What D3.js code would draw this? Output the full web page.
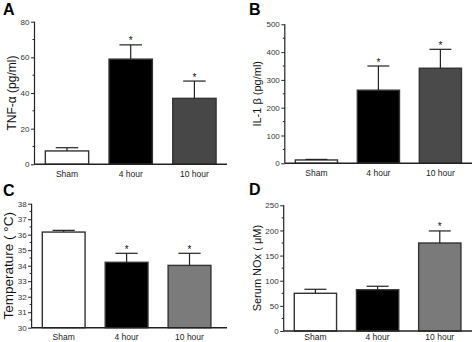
<!DOCTYPE html>
<html><head><meta charset="utf-8">
<script src="https://cdn.jsdelivr.net/npm/d3@7"></script>
<style>
html,body{margin:0;padding:0;background:#fff;}
svg{display:block;font-family:"Liberation Sans",Arial,sans-serif;}
</style></head>
<body>
<svg id="chart" width="472" height="342"></svg>
<script>
const categories = ["Sham", "4 hour", "10 hour"];

const tnfMean = [7.5, 59, 37];
const tnfSem  = [1.8, 8, 9.7];
const tnfSig  = [false, true, true];
const tnfTicks = [0, 20, 40, 60, 80];

const il1Mean = [12, 263, 342];
const il1Sem  = [2, 87, 68];
const il1Sig  = [false, true, true];
const il1Ticks = [0, 100, 200, 300, 400, 500];

const tempMean = [36.17, 34.22, 34.02];
const tempSem  = [0.11, 0.58, 0.78];
const tempSig  = [false, true, true];
const tempTicks = [30, 31, 32, 33, 34, 35, 36, 37, 38];

const noxMean = [75, 82, 175];
const noxSem  = [8, 7, 24];
const noxSig  = [false, false, true];
const noxTicks = [0, 50, 100, 150, 200, 250];

const panels = [
  {letter:"A", lx:3, ly:15, label:"TNF-\u03b1 (pg/ml)", labelSize:12, labelX:16, mean:tnfMean, sem:tnfSem, sig:tnfSig, ticks:tnfTicks, minor:10,
   dom:[0,80], yr:[164.3,21.7], x0:34.5, x1:226.9, axisEnd:227, xlabY:176.5, fills:["#fff","#000","#474747"]},
  {letter:"B", lx:249, ly:15, label:"IL-1 \u03b2 (pg/ml)", labelSize:11, labelX:261, mean:il1Mean, sem:il1Sem, sig:il1Sig, ticks:il1Ticks, minor:50,
   dom:[0,500], yr:[163.3,24.3], x0:284.8, x1:472, axisEnd:472, xlabY:175.5, fills:["#fff","#000","#4a4a4a"]},
  {letter:"C", lx:3, ly:196, label:"Temperature ( \u00b0C)", labelSize:13.5, labelX:13, mean:tempMean, sem:tempSem, sig:tempSig, ticks:tempTicks, minor:0.5,
   dom:[30,38], yr:[327.7,203.7], x0:31.6, x1:221.6, axisEnd:227, xlabY:339.5, fills:["#fff","#000","#7b7b7b"]},
  {letter:"D", lx:249, ly:195, label:"Serum NOx ( \u03bcM)", labelSize:11, labelX:261, mean:noxMean, sem:noxSem, sig:noxSig, ticks:noxTicks, minor:25,
   dom:[0,250], yr:[331,205.3], x0:283.7, x1:471.5, axisEnd:472, xlabY:339.5, fills:["#fff","#000","#7a7a7a"]}
];

const svg = d3.select("#chart");
const axisColor = "#222";

panels.forEach(p => {
  const g = svg.append("g");
  const y = d3.scaleLinear().domain(p.dom).range(p.yr);
  const x = d3.scaleBand().domain(categories).range([p.x0, p.x1]).paddingInner(0.32).paddingOuter(0.17);
  const axisX = p.x0;

  // panel letter
  g.append("text").attr("x", p.lx).attr("y", p.ly).attr("font-size", 16).attr("font-weight", "bold")
    .attr("fill", "#000").text(p.letter);

  // bars
  g.selectAll("rect.bar").data(categories).enter().append("rect")
    .attr("x", d => x(d)).attr("width", x.bandwidth())
    .attr("y", (d,i) => y(p.mean[i]))
    .attr("height", (d,i) => y(p.dom[0]) - y(p.mean[i]))
    .attr("fill", (d,i) => p.fills[i]).attr("stroke", "#333").attr("stroke-width", 1.4);

  // error bars
  const capW = x.bandwidth() * 0.52;
  categories.forEach((c,i) => {
    const cx = x(c) + x.bandwidth()/2;
    const top = y(p.mean[i] + p.sem[i]);
    g.append("line").attr("x1", cx).attr("x2", cx).attr("y1", y(p.mean[i])).attr("y2", top)
      .attr("stroke", "#222").attr("stroke-width", 1.2);
    g.append("line").attr("x1", cx - capW/2).attr("x2", cx + capW/2).attr("y1", top).attr("y2", top)
      .attr("stroke", "#222").attr("stroke-width", 1.2);
    if (p.sig[i]) {
      g.append("text").attr("x", cx).attr("y", top - 0.5).attr("text-anchor", "middle")
        .attr("font-size", 10).attr("fill", "#111").text("*");
    }
  });

  // y axis
  const yAxis = d3.axisLeft(y).tickValues(p.ticks).tickSize(3.5).tickPadding(1.5).tickFormat(d3.format("d"));
  const ya = g.append("g").attr("transform", `translate(${axisX},0)`).call(yAxis);
  ya.select(".domain").attr("stroke", axisColor).attr("stroke-width", 1.2).attr("d", `M0,${p.yr[0]}V${p.yr[1]}`);
  ya.selectAll(".tick line").attr("stroke", axisColor).attr("stroke-width", 1);
  ya.selectAll(".tick text").attr("font-size", 8).attr("fill", "#333").attr("font-family", "Liberation Sans, Arial, sans-serif");
  // minor ticks
  const minorVals = d3.range(p.dom[0] + p.minor, p.dom[1], p.minor * 2);
  g.selectAll("line.minor").data(minorVals).enter().append("line")
    .attr("x1", axisX - 2).attr("x2", axisX).attr("y1", d => y(d)).attr("y2", d => y(d))
    .attr("stroke", axisColor).attr("stroke-width", 1);

  // x axis baseline
  g.append("line").attr("x1", axisX).attr("x2", p.axisEnd).attr("y1", y(p.dom[0])).attr("y2", y(p.dom[0]))
    .attr("stroke", axisColor).attr("stroke-width", 1.4);

  // x labels
  g.selectAll("text.xl").data(categories).enter().append("text")
    .attr("x", d => x(d) + x.bandwidth()/2).attr("y", p.xlabY).attr("text-anchor", "middle")
    .attr("font-size", 8.5).attr("fill", "#222").text(d => d);

  // y label
  const midY = (p.yr[0] + p.yr[1]) / 2;
  g.append("text").attr("transform", `translate(${p.labelX},${midY}) rotate(-90)`)
    .attr("text-anchor", "middle").attr("font-size", p.labelSize).attr("fill", "#111").text(p.label);
});
</script>
</body></html>
